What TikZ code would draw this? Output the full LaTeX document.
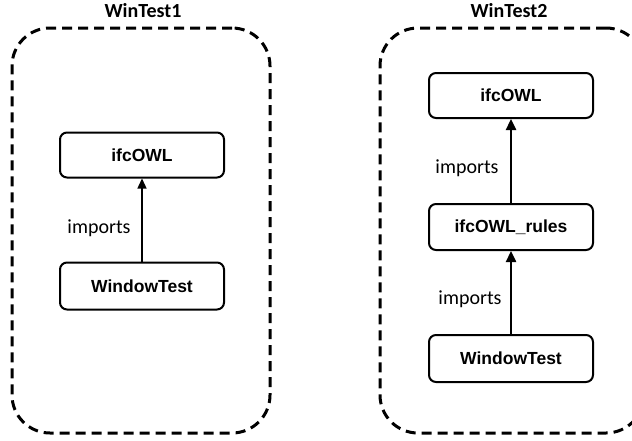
\documentclass[tikz,border=0pt]{standalone}
\usepackage{fontspec}
\setmainfont{Liberation Sans}
\newfontfamily\calfont{Carlito}
\usetikzlibrary{arrows.meta}
\tikzset{
  container/.style={draw=black, line width=3pt, dash pattern=on 10pt off 6pt,
    rounded corners=38pt, inner sep=0pt},
  onto/.style={draw=black, line width=2pt, rounded corners=7pt, inner sep=0pt,
    minimum width=164pt, font=\fontsize{17.5}{20}\selectfont\bfseries},
  title/.style={font=\calfont\fontsize{20}{22}\selectfont\bfseries, inner sep=0pt},
  rel/.style={font=\calfont\fontsize{20}{22}\selectfont, inner sep=0pt},
  thinimp/.style={line width=1.4pt, -{Triangle[length=10pt,width=9pt]}},
  thickimp/.style={line width=2.4pt, -{Triangle[length=11pt,width=10pt]}},
}
\begin{document}
\begin{tikzpicture}[x=1pt,y=-1pt]
\useasboundingbox (0,0) rectangle (632,440);
\clip (0,0) rectangle (632,440);

% first ontology group
\node[title] (t1) at (143,11) {WinTest1};
\node[container, minimum width=258pt, minimum height=405pt] (g1) at (141,230.5) {};
\node[onto, minimum height=45pt] (o1) at (142,155) {ifcOWL};
\node[onto, minimum height=47pt] (w1) at (142,286) {WindowTest};
\draw[thinimp] (w1) -- (o1);
\node[rel] (r1) at (99,228) {imports};

% second ontology group
\node[title] (t2) at (509,11) {WinTest2};
\node[container, minimum width=264pt, minimum height=405pt] (g2) at (512,230.5) {};
\node[onto, minimum height=45pt] (o2) at (511,95.5) {ifcOWL};
\node[onto, minimum height=46pt] (u2) at (511,227) {ifcOWL\_rules};
\node[onto, minimum height=47pt] (w2) at (511,358.5) {WindowTest};
\draw[thickimp] (u2) -- (o2);
\draw[thickimp] (w2) -- (u2);
\node[rel] (r2) at (467,168) {imports};
\node[rel] (r3) at (470,299) {imports};
\end{tikzpicture}
\end{document}
